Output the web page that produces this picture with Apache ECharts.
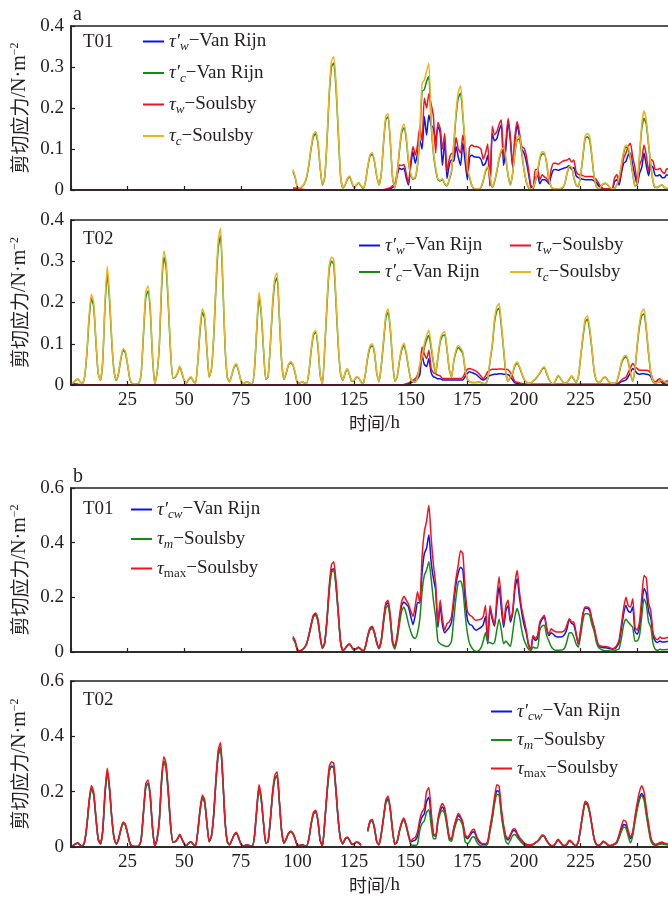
<!DOCTYPE html>
<html>
<head>
<meta charset="utf-8">
<script src="https://cdn.jsdelivr.net/npm/echarts@6/dist/echarts.min.js"></script>
<style>
html, body { margin: 0; padding: 0; background: #fff; }
#chart { width: 668px; height: 897px; }
</style>
</head>
<body>
<div id="chart"></div>
<script>
// hourly values; T01 begins at hour 98, T02 at hour 0
var t01Start = 98;
var t02Start = 0;
var xTicks = [25, 50, 75, 100, 125, 150, 175, 200, 225, 250];

// ---- a / T01 ----
var t01TauWVR = [
  0.002,0.001,0,0,0,0,0,0,0,0,
  0,0,0,0,0,0,0,0,0,0,
  0,0,0,0,0,0,0,0,0,0,
  0,0,0,0,0,0,0,0,0,0,
  0,0.001,0.002,0.003,0.006,0.012,0.035,0.053,0.05,0.053,
  0.03,0.012,0.06,0.093,0.065,0.09,0.122,0.1,0.179,0.134,
  0.183,0.159,0.15,0.12,0.155,0.14,0.06,0.12,0.028,0.06,
  0.073,0.07,0.106,0.08,0.06,0.115,0.07,0.025,0.08,0.085,
  0.081,0.08,0.08,0.075,0.06,0.065,0.085,0.01,0.138,0.12,
  0.125,0.145,0.16,0.06,0.1,0.167,0.12,0.055,0.12,0.159,
  0.13,0.1,0.09,0.07,0.04,0.008,0.003,0.03,0.035,0.015,
  0.025,0.025,0.022,0.015,0.035,0.049,0.05,0.048,0.05,0.052,
  0.054,0.056,0.06,0.05,0.055,0.035,0.03,0.028,0.026,0.025,
  0.025,0.025,0.025,0.022,0.018,0.01,0.006,0.003,0.002,0.002,
  0.002,0.002,0.02,0.025,0.012,0.04,0.065,0.07,0.085,0.09,
  0.06,0.035,0.012,0.04,0.055,0.09,0.06,0.035,0.06,0.055,
  0.035,0.035,0.037,0.03,0.03,0.037,0.035
];
var t01TauCVR = [
  0.045,0.03,0.005,0.004,0.008,0.015,0.03,0.06,0.1,0.13,
  0.137,0.115,0.055,0.012,0.03,0.115,0.23,0.3,0.31,0.25,
  0.14,0.035,0.005,0.012,0.026,0.032,0.018,0.005,0.012,0.017,
  0.01,0.003,0.02,0.055,0.082,0.087,0.068,0.033,0.012,0.04,
  0.115,0.172,0.178,0.115,0.028,0.005,0.04,0.095,0.14,0.152,
  0.125,0.068,0.038,0.026,0.03,0.06,0.13,0.24,0.245,0.265,
  0.276,0.16,0.09,0.05,0.025,0.022,0.026,0.015,0.01,0.025,
  0.045,0.11,0.18,0.225,0.236,0.18,0.11,0.05,0.03,0.01,
  0.003,0.002,0.002,0.006,0.022,0.045,0.055,0.03,0.006,0.02,
  0.045,0.075,0.093,0.098,0.075,0.035,0.012,0.04,0.09,0.122,
  0.125,0.09,0.05,0.02,0.006,0.002,0.005,0.02,0.045,0.075,
  0.088,0.088,0.065,0.025,0.008,0.003,0.002,0.002,0.003,0.005,
  0.015,0.04,0.055,0.055,0.03,0.012,0.008,0.035,0.08,0.125,
  0.13,0.122,0.08,0.03,0.008,0.002,0.008,0.015,0.016,0.012,
  0.005,0.002,0.004,0.012,0.03,0.058,0.09,0.105,0.1,0.075,
  0.04,0.01,0.015,0.08,0.15,0.175,0.16,0.11,0.06,0.02,
  0.006,0.006,0.01,0.012,0.006,0.003,0.003
];
var t01TauWS = [
  0.005,0.005,0.004,0.003,0.002,0.001,0,0,0,0,
  0,0,0,0,0,0,0,0,0,0,
  0,0,0,0,0,0,0,0,0,0,
  0,0,0,0,0,0,0,0,0,0,
  0.001,0.002,0.004,0.006,0.01,0.016,0.04,0.061,0.06,0.062,
  0.04,0.016,0.07,0.106,0.085,0.11,0.153,0.12,0.224,0.2,
  0.235,0.21,0.18,0.09,0.165,0.15,0.1,0.138,0.045,0.075,
  0.089,0.088,0.128,0.1,0.09,0.134,0.1,0.037,0.105,0.11,
  0.106,0.106,0.104,0.1,0.075,0.09,0.112,0.012,0.155,0.135,
  0.142,0.16,0.171,0.075,0.12,0.175,0.13,0.061,0.13,0.167,
  0.14,0.106,0.102,0.085,0.05,0.012,0.005,0.05,0.05,0.025,
  0.037,0.032,0.028,0.02,0.05,0.065,0.065,0.063,0.066,0.07,
  0.072,0.073,0.077,0.068,0.073,0.045,0.038,0.037,0.035,0.033,
  0.033,0.033,0.033,0.03,0.025,0.016,0.008,0.004,0.003,0.003,
  0.003,0.003,0.03,0.037,0.018,0.05,0.077,0.09,0.106,0.114,
  0.08,0.055,0.02,0.06,0.075,0.11,0.085,0.045,0.075,0.07,
  0.05,0.05,0.053,0.045,0.04,0.052,0.05
];
var t01TauCS = [
  0.05,0.032,0.006,0.005,0.009,0.016,0.032,0.063,0.104,0.136,
  0.142,0.12,0.058,0.014,0.032,0.12,0.24,0.315,0.325,0.262,
  0.147,0.037,0.006,0.013,0.028,0.034,0.02,0.006,0.013,0.018,
  0.011,0.004,0.021,0.058,0.086,0.091,0.071,0.035,0.013,0.042,
  0.12,0.18,0.186,0.12,0.03,0.006,0.042,0.1,0.148,0.161,
  0.132,0.072,0.04,0.028,0.032,0.063,0.14,0.26,0.268,0.29,
  0.309,0.17,0.095,0.055,0.027,0.024,0.028,0.016,0.011,0.027,
  0.048,0.115,0.19,0.24,0.254,0.19,0.115,0.053,0.032,0.011,
  0.004,0.003,0.003,0.007,0.024,0.048,0.058,0.032,0.007,0.022,
  0.048,0.08,0.098,0.103,0.08,0.037,0.013,0.042,0.095,0.13,
  0.132,0.095,0.053,0.022,0.007,0.003,0.006,0.022,0.048,0.08,
  0.093,0.092,0.068,0.027,0.009,0.004,0.003,0.003,0.004,0.006,
  0.016,0.042,0.058,0.057,0.032,0.013,0.009,0.037,0.085,0.132,
  0.138,0.13,0.085,0.032,0.009,0.003,0.009,0.016,0.017,0.013,
  0.006,0.003,0.005,0.013,0.032,0.062,0.095,0.11,0.106,0.08,
  0.043,0.011,0.016,0.085,0.16,0.193,0.17,0.115,0.063,0.022,
  0.007,0.007,0.011,0.013,0.007,0.004,0.004
];

// ---- a / T02 ----
var t02TauWVR = [
  0.002,0.002,0.001,0.001,0,0,0,0,0,0,
  0,0,0,0,0,0,0,0,0,0,
  0,0,0,0,0,0,0,0,0,0,
  0,0,0,0,0,0,0,0,0,0,
  0,0,0,0,0,0,0,0,0,0,
  0,0,0,0,0,0,0,0,0,0,
  0,0,0,0,0,0,0,0,0,0,
  0,0,0,0,0,0,0,0,0,0,
  0,0,0,0,0,0,0,0,0,0,
  0,0,0,0,0,0,0,0,0,0,
  0,0,0,0,0,0,0,0,0,0,
  0,0,0,0,0,0,0,0,0,0,
  0,0,0,0,0,0,0,0,0,0,
  0,0,0,0,0,0,0,0,0,0,
  0,0,0,0,0,0,0,0,0.002,0.003,
  0.005,0.008,0.01,0.015,0.025,0.072,0.05,0.045,0.064,0.03,
  0.02,0.018,0.015,0.015,0.012,0.012,0.012,0.012,0.012,0.012,
  0.012,0.012,0.012,0.012,0.02,0.028,0.032,0.03,0.028,0.025,
  0.02,0.015,0.012,0.015,0.02,0.023,0.025,0.026,0.026,0.027,
  0.027,0.026,0.026,0.025,0.02,0.012,0.005,0.004,0.003,0.002,
  0.001,0.001,0.001,0.001,0.001,0.001,0.001,0.001,0.001,0.001,
  0.001,0.001,0.001,0.001,0.001,0.001,0.001,0.001,0.001,0.001,
  0.001,0.001,0.001,0.001,0.001,0.001,0.001,0.001,0.001,0.001,
  0.001,0.001,0.001,0.001,0.001,0.001,0.001,0.001,0.001,0.001,
  0.001,0.002,0.004,0.008,0.01,0.012,0.02,0.03,0.04,0.035,
  0.028,0.026,0.027,0.027,0.026,0.025,0.02,0.008,0.005,0.007,
  0.01,0.005,0.004,0.006,0.005
];
var t02TauCVR = [
  0.004,0.006,0.011,0.014,0.008,0.003,0.019,0.075,0.16,0.21,
  0.19,0.105,0.028,0.011,0.056,0.19,0.27,0.207,0.104,0.033,
  0.011,0.028,0.062,0.084,0.078,0.048,0.014,0.003,0.002,0.002,
  0.004,0.028,0.122,0.212,0.228,0.18,0.066,0.003,0.028,0.095,
  0.235,0.31,0.285,0.19,0.076,0.017,0.019,0.028,0.044,0.028,
  0.011,0.005,0.014,0.019,0.009,0.005,0.057,0.133,0.176,0.161,
  0.085,0.019,0.038,0.114,0.238,0.333,0.362,0.248,0.095,0.019,
  0.008,0.024,0.043,0.049,0.033,0.011,0.003,0.006,0.007,0.004,
  0.003,0.038,0.133,0.213,0.171,0.085,0.014,0.019,0.095,0.19,
  0.248,0.26,0.162,0.057,0.014,0.028,0.048,0.054,0.048,0.028,
  0.005,0.005,0.008,0.005,0.004,0.028,0.081,0.12,0.128,0.095,
  0.024,0.003,0.085,0.19,0.28,0.3,0.293,0.2,0.095,0.028,
  0.011,0.028,0.038,0.024,0.009,0.011,0.019,0.017,0.008,0.003,
  0.028,0.066,0.09,0.095,0.076,0.028,0.008,0.047,0.104,0.162,
  0.177,0.133,0.057,0.009,0.019,0.057,0.085,0.097,0.076,0.043,
  0.014,0.008,0.007,0.019,0.047,0.065,0.09,0.11,0.12,0.09,
  0.055,0.028,0.066,0.104,0.119,0.122,0.085,0.038,0.019,0.057,
  0.08,0.091,0.085,0.076,0.038,0.014,0.008,0.006,0.006,0.006,
  0.007,0.006,0.004,0.003,0.014,0.057,0.095,0.152,0.18,0.186,
  0.142,0.085,0.028,0.009,0.019,0.028,0.047,0.053,0.043,0.028,
  0.014,0.008,0.004,0.005,0.009,0.014,0.021,0.028,0.038,0.042,
  0.028,0.014,0.005,0.003,0.011,0.022,0.017,0.008,0.004,0.006,
  0.014,0.022,0.014,0.006,0.019,0.066,0.114,0.152,0.16,0.133,
  0.085,0.033,0.011,0.006,0.009,0.017,0.019,0.011,0.006,0.004,
  0.004,0.009,0.028,0.052,0.064,0.068,0.057,0.028,0.009,0.038,
  0.095,0.142,0.168,0.173,0.133,0.076,0.028,0.009,0.005,0.006,
  0.009,0.011,0.008,0.006,0.005
];
var t02TauWS = [
  0.004,0.004,0.003,0.002,0.001,0,0,0,0,0,
  0,0,0,0,0,0,0,0,0,0,
  0,0,0,0,0,0,0,0,0,0,
  0,0,0,0,0,0,0,0,0,0,
  0,0,0,0,0,0,0,0,0,0,
  0,0,0,0,0,0,0,0,0,0,
  0,0,0,0,0,0,0,0,0,0,
  0,0,0,0,0,0,0,0,0,0,
  0,0,0,0,0,0,0,0,0,0,
  0,0,0,0,0,0,0,0,0,0,
  0,0,0,0,0,0,0,0,0,0,
  0,0,0,0,0,0,0,0,0,0,
  0,0,0,0,0,0,0,0,0,0,
  0,0,0,0,0,0,0,0,0,0,
  0,0,0,0,0,0,0,0.001,0.003,0.005,
  0.008,0.012,0.015,0.025,0.04,0.092,0.075,0.064,0.084,0.04,
  0.03,0.027,0.024,0.022,0.016,0.016,0.016,0.016,0.016,0.016,
  0.016,0.016,0.016,0.018,0.03,0.038,0.04,0.038,0.036,0.033,
  0.028,0.022,0.015,0.022,0.032,0.036,0.038,0.038,0.038,0.039,
  0.039,0.038,0.038,0.037,0.03,0.02,0.008,0.007,0.005,0.004,
  0.002,0.002,0.002,0.002,0.002,0.002,0.002,0.002,0.002,0.002,
  0.002,0.002,0.002,0.002,0.002,0.002,0.002,0.002,0.002,0.002,
  0.002,0.002,0.002,0.002,0.002,0.002,0.002,0.002,0.002,0.002,
  0.002,0.002,0.002,0.002,0.002,0.002,0.002,0.002,0.002,0.002,
  0.002,0.004,0.006,0.012,0.016,0.019,0.03,0.042,0.052,0.045,
  0.04,0.036,0.036,0.036,0.036,0.034,0.028,0.012,0.008,0.012,
  0.015,0.008,0.007,0.01,0.009
];
var t02TauCS = [
  0.004,0.006,0.012,0.015,0.008,0.003,0.02,0.08,0.17,0.22,
  0.2,0.11,0.03,0.012,0.06,0.2,0.288,0.22,0.11,0.035,
  0.012,0.03,0.065,0.088,0.082,0.05,0.015,0.003,0.002,0.002,
  0.004,0.03,0.13,0.225,0.24,0.19,0.07,0.003,0.03,0.1,
  0.25,0.325,0.3,0.2,0.08,0.018,0.02,0.03,0.046,0.03,
  0.012,0.005,0.015,0.02,0.01,0.005,0.06,0.14,0.185,0.17,
  0.09,0.02,0.04,0.12,0.25,0.35,0.38,0.26,0.1,0.02,
  0.008,0.025,0.045,0.052,0.035,0.012,0.003,0.006,0.007,0.004,
  0.003,0.04,0.14,0.224,0.18,0.09,0.015,0.02,0.1,0.2,
  0.26,0.272,0.17,0.06,0.015,0.03,0.05,0.057,0.05,0.03,
  0.005,0.005,0.008,0.005,0.004,0.03,0.085,0.125,0.133,0.1,
  0.025,0.003,0.09,0.2,0.29,0.31,0.305,0.21,0.1,0.03,
  0.012,0.03,0.04,0.025,0.01,0.012,0.02,0.018,0.008,0.003,
  0.03,0.07,0.095,0.1,0.08,0.03,0.008,0.05,0.11,0.17,
  0.185,0.14,0.06,0.01,0.02,0.06,0.09,0.102,0.08,0.045,
  0.015,0.008,0.007,0.02,0.05,0.07,0.1,0.12,0.133,0.1,
  0.06,0.03,0.07,0.11,0.125,0.129,0.09,0.04,0.02,0.06,
  0.085,0.096,0.09,0.08,0.04,0.015,0.008,0.006,0.006,0.006,
  0.007,0.006,0.004,0.003,0.015,0.06,0.1,0.16,0.19,0.198,
  0.15,0.09,0.03,0.01,0.02,0.03,0.05,0.056,0.045,0.03,
  0.015,0.008,0.004,0.005,0.01,0.015,0.022,0.03,0.04,0.044,
  0.03,0.015,0.005,0.003,0.012,0.023,0.018,0.008,0.004,0.006,
  0.015,0.023,0.015,0.006,0.02,0.07,0.12,0.16,0.168,0.14,
  0.09,0.035,0.012,0.006,0.01,0.018,0.02,0.012,0.006,0.004,
  0.004,0.01,0.03,0.055,0.068,0.072,0.06,0.03,0.01,0.04,
  0.1,0.15,0.178,0.184,0.14,0.08,0.03,0.01,0.005,0.006,
  0.01,0.012,0.008,0.006,0.005
];

// ---- b / T01 ----
var t01TauCwVR = [
  0.052,0.036,0.007,0.005,0.008,0.015,0.03,0.06,0.098,0.132,
  0.139,0.117,0.056,0.014,0.033,0.115,0.23,0.3,0.305,0.245,
  0.142,0.038,0.006,0.012,0.024,0.029,0.017,0.008,0.012,0.017,
  0.01,0.004,0.02,0.058,0.085,0.09,0.07,0.034,0.013,0.043,
  0.115,0.172,0.18,0.122,0.036,0.018,0.055,0.118,0.17,0.183,
  0.175,0.165,0.13,0.1,0.135,0.18,0.18,0.29,0.36,0.38,
  0.429,0.33,0.27,0.226,0.09,0.17,0.1,0.07,0.08,0.09,
  0.11,0.18,0.25,0.29,0.31,0.3,0.19,0.12,0.1,0.098,
  0.085,0.08,0.085,0.09,0.1,0.13,0.03,0.16,0.12,0.095,
  0.17,0.24,0.16,0.09,0.15,0.17,0.11,0.14,0.23,0.268,
  0.2,0.145,0.1,0.07,0.025,0.006,0.055,0.042,0.05,0.1,
  0.12,0.128,0.085,0.06,0.07,0.065,0.057,0.055,0.055,0.056,
  0.065,0.085,0.12,0.105,0.1,0.065,0.028,0.075,0.135,0.16,
  0.16,0.152,0.115,0.085,0.045,0.02,0.018,0.016,0.016,0.014,
  0.012,0.01,0.012,0.02,0.035,0.085,0.14,0.17,0.15,0.145,
  0.165,0.075,0.065,0.09,0.17,0.232,0.215,0.15,0.125,0.06,
  0.04,0.035,0.04,0.037,0.037,0.038,0.038
];
var t01TauMS = [
  0.05,0.033,0.006,0.004,0.007,0.014,0.029,0.058,0.095,0.128,
  0.135,0.113,0.054,0.013,0.031,0.11,0.22,0.29,0.3,0.24,
  0.138,0.036,0.006,0.012,0.023,0.028,0.017,0.007,0.011,0.016,
  0.009,0.004,0.019,0.055,0.08,0.085,0.066,0.032,0.012,0.04,
  0.105,0.16,0.17,0.11,0.03,0.01,0.045,0.1,0.15,0.165,
  0.14,0.104,0.075,0.055,0.05,0.07,0.12,0.22,0.28,0.3,
  0.33,0.27,0.19,0.128,0.04,0.03,0.025,0.022,0.02,0.025,
  0.04,0.12,0.2,0.256,0.26,0.23,0.14,0.07,0.03,0.015,
  0.005,0.002,0.005,0.015,0.04,0.07,0.035,0.035,0.03,0.035,
  0.08,0.12,0.08,0.03,0.04,0.03,0.02,0.07,0.13,0.159,
  0.13,0.08,0.045,0.025,0.01,0.006,0.018,0.015,0.015,0.08,
  0.095,0.098,0.06,0.04,0.02,0.01,0.006,0.006,0.007,0.008,
  0.015,0.04,0.07,0.07,0.055,0.03,0.018,0.06,0.115,0.14,
  0.14,0.135,0.1,0.075,0.035,0.015,0.01,0.006,0.005,0.005,
  0.004,0.004,0.005,0.008,0.012,0.05,0.1,0.12,0.11,0.1,
  0.09,0.04,0.04,0.06,0.13,0.195,0.175,0.11,0.09,0.03,
  0.01,0.006,0.01,0.008,0.008,0.009,0.01
];
var t01TauMaxS = [
  0.057,0.04,0.008,0.005,0.008,0.015,0.03,0.062,0.1,0.135,
  0.143,0.12,0.058,0.015,0.035,0.12,0.24,0.32,0.33,0.26,
  0.15,0.04,0.006,0.013,0.025,0.03,0.018,0.008,0.012,0.018,
  0.01,0.004,0.02,0.06,0.088,0.094,0.072,0.035,0.014,0.045,
  0.12,0.18,0.189,0.13,0.04,0.02,0.06,0.13,0.185,0.204,
  0.19,0.175,0.15,0.13,0.17,0.22,0.18,0.35,0.44,0.48,
  0.537,0.42,0.32,0.25,0.1,0.19,0.12,0.08,0.104,0.11,
  0.13,0.2,0.27,0.32,0.37,0.36,0.23,0.15,0.135,0.13,
  0.12,0.116,0.118,0.12,0.13,0.17,0.04,0.17,0.13,0.1,
  0.2,0.275,0.19,0.1,0.17,0.19,0.12,0.15,0.25,0.299,
  0.22,0.16,0.12,0.08,0.03,0.008,0.06,0.05,0.06,0.11,
  0.125,0.134,0.09,0.065,0.085,0.078,0.074,0.073,0.073,0.074,
  0.08,0.1,0.122,0.11,0.11,0.07,0.03,0.08,0.14,0.165,
  0.165,0.158,0.12,0.09,0.05,0.025,0.022,0.02,0.02,0.018,
  0.016,0.012,0.015,0.025,0.045,0.1,0.16,0.2,0.17,0.165,
  0.195,0.09,0.08,0.11,0.2,0.28,0.27,0.18,0.15,0.07,
  0.05,0.045,0.055,0.05,0.05,0.052,0.055
];

// ---- b / T02 ---- (null = no record)
var t02TauCwVR = [
  0.004,0.006,0.011,0.014,0.008,0.003,0.019,0.076,0.162,0.212,
  0.19,0.105,0.028,0.011,0.057,0.19,0.272,0.21,0.105,0.033,
  0.011,0.028,0.062,0.086,0.079,0.048,0.014,0.003,0.002,0.002,
  0.004,0.028,0.124,0.217,0.23,0.181,0.067,0.003,0.028,0.095,
  0.238,0.31,0.286,0.19,0.076,0.017,0.019,0.028,0.044,0.028,
  0.011,0.005,0.014,0.019,0.009,0.005,0.057,0.133,0.178,0.162,
  0.086,0.019,0.038,0.114,0.238,0.333,0.36,0.248,0.095,0.019,
  0.008,0.024,0.043,0.05,0.033,0.011,0.003,0.006,0.007,0.004,
  0.003,0.038,0.133,0.214,0.171,0.086,0.014,0.019,0.095,0.19,
  0.248,0.259,0.162,0.057,0.014,0.028,0.048,0.055,0.048,0.028,
  0.005,0.005,0.008,0.005,0.004,0.028,0.081,0.119,0.127,0.095,
  0.024,0.003,0.086,0.19,0.276,0.293,0.288,0.2,0.095,0.028,
  0.011,0.028,0.034,0.024,0.009,0.011,0.017,0.016,0.006,null,
  null,0.057,0.09,0.095,0.067,0.019,0.008,0.048,0.105,0.162,
  0.175,0.133,0.057,0.009,0.019,0.057,0.086,0.1,0.076,0.043,
  0.018,0.022,0.025,0.04,0.085,0.109,0.12,0.165,0.18,0.11,
  0.045,0.038,0.095,0.13,0.145,0.13,0.085,0.033,0.028,0.065,
  0.095,0.113,0.105,0.085,0.04,0.03,0.04,0.052,0.055,0.035,
  0.02,0.012,0.01,0.01,0.018,0.065,0.11,0.165,0.203,0.2,
  0.127,0.07,0.035,0.025,0.04,0.058,0.06,0.045,0.03,0.022,
  0.013,0.009,0.007,0.007,0.009,0.015,0.021,0.03,0.041,0.038,
  0.023,0.011,0.005,0.004,0.014,0.026,0.018,0.007,0.005,0.011,
  0.022,0.018,0.009,0.005,0.019,0.067,0.12,0.16,0.155,0.125,
  0.077,0.028,0.009,0.005,0.011,0.02,0.015,0.007,0.005,0.007,
  0.011,0.018,0.04,0.064,0.081,0.078,0.05,0.03,0.05,0.1,
  0.145,0.178,0.193,0.18,0.125,0.075,0.03,0.012,0.008,0.01,
  0.013,0.015,0.012,0.01,0.009
];
var t02TauMS = [
  0.004,0.005,0.011,0.014,0.007,0.003,0.019,0.075,0.16,0.21,
  0.19,0.104,0.028,0.011,0.056,0.188,0.27,0.207,0.104,0.033,
  0.011,0.028,0.062,0.085,0.078,0.048,0.014,0.003,0.002,0.002,
  0.004,0.028,0.122,0.214,0.228,0.179,0.066,0.003,0.028,0.094,
  0.235,0.307,0.283,0.188,0.075,0.017,0.019,0.028,0.043,0.028,
  0.011,0.005,0.014,0.019,0.009,0.005,0.056,0.131,0.176,0.16,
  0.085,0.019,0.038,0.113,0.235,0.33,0.356,0.245,0.094,0.019,
  0.008,0.024,0.042,0.05,0.033,0.011,0.003,0.006,0.007,0.004,
  0.003,0.038,0.131,0.211,0.169,0.085,0.014,0.019,0.094,0.188,
  0.245,0.256,0.16,0.056,0.014,0.028,0.047,0.054,0.047,0.028,
  0.005,0.005,0.008,0.005,0.004,0.028,0.08,0.117,0.125,0.094,
  0.024,0.003,0.085,0.188,0.272,0.29,0.285,0.197,0.094,0.028,
  0.011,0.028,0.034,0.024,0.009,0.011,0.017,0.016,0.006,null,
  null,0.056,0.089,0.094,0.066,0.019,0.008,0.047,0.103,0.158,
  0.17,0.13,0.056,0.009,0.019,0.056,0.085,0.098,0.075,0.04,
  0.01,0.006,0.006,0.01,0.06,0.085,0.095,0.125,0.135,0.08,
  0.03,0.03,0.09,0.12,0.133,0.12,0.075,0.025,0.02,0.055,
  0.085,0.1,0.095,0.075,0.02,0.012,0.02,0.035,0.037,0.02,
  0.008,0.005,0.004,0.004,0.012,0.055,0.1,0.155,0.19,0.188,
  0.115,0.06,0.02,0.01,0.025,0.042,0.045,0.035,0.025,0.015,
  0.008,0.005,0.005,0.005,0.008,0.014,0.02,0.029,0.04,0.037,
  0.022,0.01,0.005,0.004,0.013,0.025,0.017,0.007,0.004,0.01,
  0.021,0.017,0.009,0.004,0.018,0.065,0.117,0.156,0.151,0.122,
  0.075,0.027,0.009,0.005,0.01,0.019,0.014,0.007,0.004,0.006,
  0.009,0.014,0.033,0.056,0.072,0.068,0.04,0.015,0.04,0.09,
  0.135,0.17,0.185,0.17,0.115,0.065,0.022,0.008,0.006,0.007,
  0.01,0.011,0.009,0.008,0.007
];
var t02TauMaxS = [
  0.004,0.006,0.012,0.015,0.008,0.003,0.02,0.08,0.17,0.222,
  0.2,0.11,0.03,0.012,0.06,0.2,0.285,0.22,0.11,0.035,
  0.012,0.03,0.065,0.09,0.083,0.05,0.015,0.003,0.002,0.002,
  0.004,0.03,0.13,0.228,0.242,0.19,0.07,0.003,0.03,0.1,
  0.25,0.326,0.3,0.2,0.08,0.018,0.02,0.03,0.046,0.03,
  0.012,0.005,0.015,0.02,0.01,0.005,0.06,0.14,0.188,0.17,
  0.09,0.02,0.04,0.12,0.25,0.35,0.378,0.26,0.1,0.02,
  0.008,0.025,0.045,0.053,0.035,0.012,0.003,0.006,0.007,0.004,
  0.003,0.04,0.14,0.225,0.18,0.09,0.015,0.02,0.1,0.2,
  0.26,0.272,0.17,0.06,0.015,0.03,0.05,0.058,0.05,0.03,
  0.005,0.005,0.008,0.005,0.004,0.03,0.085,0.125,0.133,0.1,
  0.025,0.003,0.09,0.2,0.29,0.308,0.303,0.21,0.1,0.03,
  0.012,0.03,0.036,0.025,0.01,0.012,0.018,0.017,0.006,null,
  null,0.06,0.095,0.1,0.07,0.02,0.008,0.05,0.11,0.17,
  0.184,0.14,0.06,0.01,0.02,0.06,0.09,0.105,0.08,0.045,
  0.02,0.03,0.035,0.055,0.1,0.127,0.14,0.2,0.215,0.13,
  0.05,0.04,0.1,0.14,0.157,0.14,0.09,0.035,0.03,0.07,
  0.1,0.121,0.11,0.09,0.045,0.036,0.045,0.06,0.064,0.04,
  0.025,0.015,0.012,0.012,0.02,0.07,0.12,0.18,0.225,0.22,
  0.14,0.08,0.04,0.03,0.045,0.063,0.066,0.05,0.035,0.025,
  0.015,0.01,0.008,0.008,0.01,0.016,0.022,0.032,0.043,0.04,
  0.025,0.012,0.006,0.005,0.015,0.028,0.02,0.008,0.005,0.012,
  0.024,0.02,0.01,0.005,0.02,0.07,0.125,0.165,0.16,0.13,
  0.08,0.03,0.01,0.006,0.012,0.022,0.016,0.008,0.005,0.008,
  0.012,0.02,0.045,0.075,0.097,0.092,0.06,0.035,0.055,0.11,
  0.16,0.2,0.221,0.2,0.14,0.085,0.035,0.015,0.01,0.012,
  0.016,0.018,0.014,0.012,0.01
];

var ink = '#231f20';
var serif = '"Liberation Serif", "Times New Roman", serif';
var cjk = '"Noto Sans CJK SC", sans-serif';
var cBlue = '#0a14f0', cGreen = '#148c14', cRed = '#f5101e', cOrange = '#f0b224';

var nWvr = "τ'w-Van Rijn", nCvr = "τ'c-Van Rijn", nWs = "τw-Soulsby", nCs = "τc-Soulsby";
var nCwvr = "τ'cw-Van Rijn", nMs = "τm-Soulsby", nMaxs = "τmax-Soulsby";
var legendText = {};
legendText[nWvr] = '{t|τ′}{s|w}{n|−Van Rijn}';
legendText[nCvr] = '{t|τ′}{s|c}{n|−Van Rijn}';
legendText[nWs] = '{t|τ}{s|w}{n|−Soulsby}';
legendText[nCs] = '{t|τ}{s|c}{n|−Soulsby}';
legendText[nCwvr] = '{t|τ′}{s|cw}{n|−Van Rijn}';
legendText[nMs] = '{t|τ}{s|m}{n|−Soulsby}';
legendText[nMaxs] = '{t|τ}{u|max}{n|−Soulsby}';

var legendRich = {
  t: { fontFamily: serif, fontSize: 19, fontStyle: 'italic', color: ink, lineHeight: 24 },
  n: { fontFamily: serif, fontSize: 19, color: ink, lineHeight: 24 },
  s: { fontFamily: serif, fontSize: 13, fontStyle: 'italic', color: ink, lineHeight: 13, verticalAlign: 'bottom' },
  u: { fontFamily: serif, fontSize: 13, color: ink, lineHeight: 13, verticalAlign: 'bottom' }
};

function pairs(start, arr) {
  return arr.map(function (v, i) { return [start + i, v == null ? '-' : v]; });
}

function makeGrid(top, height) {
  return {
    left: 71, top: top, width: 607, height: height,
    show: true, borderColor: ink, borderWidth: 1.5, backgroundColor: 'transparent',
    outerBoundsMode: 'none', containLabel: false
  };
}

function makeX(gi, labelled) {
  return {
    type: 'value', gridIndex: gi, min: 0, max: 268, interval: 25, z: 5,
    axisLine: { show: true, onZero: false, lineStyle: { color: ink, width: 1.5 } },
    axisTick: { show: true, inside: true, length: 4, lineStyle: { color: ink, width: 1.2 } },
    axisLabel: {
      show: labelled, margin: 6, color: ink, fontFamily: serif, fontSize: 19,
      showMaxLabel: false, showMinLabel: false,
      formatter: function (v) { return xTicks.indexOf(v) >= 0 ? String(v) : ''; }
    },
    splitLine: { show: false },
    name: labelled ? '{c|时间}{l|/h}' : '',
    nameLocation: 'middle', nameGap: 27,
    nameTextStyle: {
      rich: {
        c: { fontFamily: cjk, fontSize: 18, color: ink, lineHeight: 22 },
        l: { fontFamily: serif, fontSize: 19, color: ink, lineHeight: 22 }
      }
    }
  };
}

function makeY(gi, max, step) {
  return {
    type: 'value', gridIndex: gi, min: 0, max: max, interval: step, z: 5,
    axisLine: { show: true, lineStyle: { color: ink, width: 1.5 } },
    axisTick: { show: true, inside: true, length: 4, lineStyle: { color: ink, width: 1.2 } },
    axisLabel: { margin: 7, color: ink, fontFamily: serif, fontSize: 19 },
    splitLine: { show: false },
    name: '{c|剪切应力}{l|/N·m}{p|−2}',
    nameLocation: 'middle', nameGap: 35,
    nameTextStyle: {
      rich: {
        c: { fontFamily: cjk, fontSize: 19, color: ink, lineHeight: 22 },
        l: { fontFamily: serif, fontSize: 20, color: ink, lineHeight: 22 },
        p: { fontFamily: serif, fontSize: 12, color: ink, lineHeight: 12, verticalAlign: 'top' }
      }
    }
  };
}

function line(name, gi, start, arr, color) {
  return {
    name: name, type: 'line', xAxisIndex: gi, yAxisIndex: gi,
    data: pairs(start, arr), symbol: 'none', showSymbol: false,
    smooth: 0.2, connectNulls: false, clip: true,
    lineStyle: { color: color, width: 1.5 }, itemStyle: { color: color },
    emphasis: { disabled: true }
  };
}

function makeLegend(names, left, top, gap) {
  return {
    data: names, orient: 'vertical', left: left, top: top, padding: 0,
    itemGap: gap, itemWidth: 21, itemHeight: 14, selectedMode: false,
    icon: 'path://M0,6 L21,6 L21,8 L0,8 Z',
    formatter: function (n) { return legendText[n]; },
    textStyle: { rich: legendRich, color: ink }
  };
}

function label(text, left, top, size) {
  return { type: 'text', left: left, top: top, style: { text: text, fontFamily: serif, fontSize: size, fill: ink } };
}

var chart = echarts.init(document.getElementById('chart'), null, { renderer: 'canvas' });
chart.setOption({
  animation: false,
  backgroundColor: '#fff',
  grid: [makeGrid(26, 164), makeGrid(220, 165), makeGrid(488, 164), makeGrid(681, 166)],
  xAxis: [makeX(0, false), makeX(1, true), makeX(2, false), makeX(3, true)],
  yAxis: [makeY(0, 0.4, 0.1), makeY(1, 0.4, 0.1), makeY(2, 0.6, 0.2), makeY(3, 0.6, 0.2)],
  legend: [
    makeLegend([nWvr, nCvr, nWs, nCs], 143, 32, 10),
    makeLegend([nWvr, nCvr], 359, 236, 5),
    makeLegend([nWs, nCs], 510, 236, 5),
    makeLegend([nCwvr, nMs, nMaxs], 131, 500, 8),
    makeLegend([nCwvr, nMs, nMaxs], 491, 702, 7)
  ],
  graphic: [
    label('a', 73, 5, 20),
    label('b', 73, 467, 20),
    label('T01', 83, 33, 19),
    label('T02', 83, 230, 19),
    label('T01', 83, 500, 19),
    label('T02', 83, 691, 19)
  ],
  series: [
    line(nWvr, 0, t01Start, t01TauWVR, cBlue),
    line(nCvr, 0, t01Start, t01TauCVR, cGreen),
    line(nWs, 0, t01Start, t01TauWS, cRed),
    line(nCs, 0, t01Start, t01TauCS, cOrange),

    line(nWvr, 1, t02Start, t02TauWVR, cBlue),
    line(nCvr, 1, t02Start, t02TauCVR, cGreen),
    line(nWs, 1, t02Start, t02TauWS, cRed),
    line(nCs, 1, t02Start, t02TauCS, cOrange),

    line(nCwvr, 2, t01Start, t01TauCwVR, cBlue),
    line(nMs, 2, t01Start, t01TauMS, cGreen),
    line(nMaxs, 2, t01Start, t01TauMaxS, cRed),

    line(nCwvr, 3, t02Start, t02TauCwVR, cBlue),
    line(nMs, 3, t02Start, t02TauMS, cGreen),
    line(nMaxs, 3, t02Start, t02TauMaxS, cRed)
  ]
});
</script>
</body>
</html>
